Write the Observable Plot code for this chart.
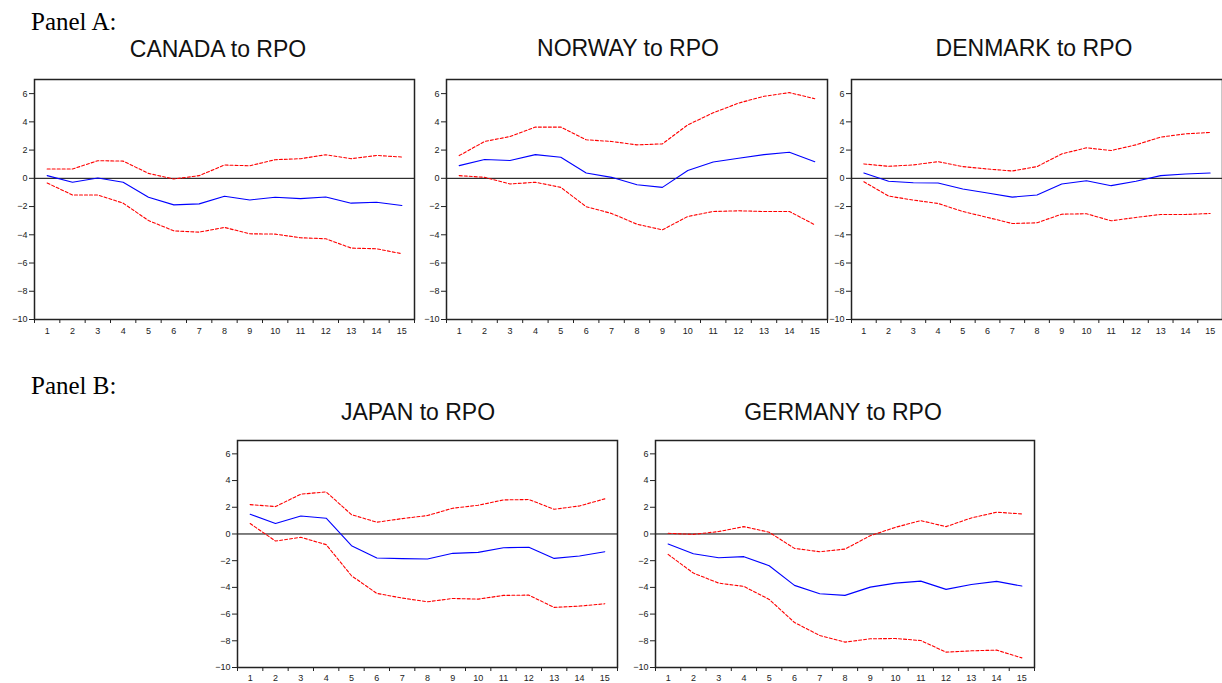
<!DOCTYPE html>
<html>
<head>
<meta charset="utf-8">
<script src="https://cdn.jsdelivr.net/npm/d3@7"></script>
<script src="https://cdn.jsdelivr.net/npm/@observablehq/plot@0.6"></script>
<style>
  html, body { margin: 0; padding: 0; background: #fff; overflow: hidden; }
  #root { position: relative; width: 1222px; height: 683px; overflow: hidden; background: #fff; }
  .panel-label { position: absolute; font-family: "Liberation Serif", "Times New Roman", serif; font-size: 25px; line-height: 25px; color: #000; white-space: nowrap; }
  .title { position: absolute; width: 320px; text-align: center; font-family: "Liberation Sans", Arial, sans-serif; font-size: 23px; line-height: 23px; color: #111; white-space: nowrap; }
  .chart { position: absolute; }
</style>
</head>
<body>
<div id="root"></div>
<script>
// ---- Data ----
const periods = [1, 2, 3, 4, 5, 6, 7, 8, 9, 10, 11, 12, 13, 14, 15];
const yTicks = [-10, -8, -6, -4, -2, 0, 2, 4, 6];

const panelLabels = ["Panel A:", "Panel B:"];
const titles = ["CANADA to RPO", "NORWAY to RPO", "DENMARK to RPO", "JAPAN to RPO", "GERMANY to RPO"];

const canadaResp  = [0.19, -0.28, 0.02, -0.28, -1.34, -1.88, -1.81, -1.27, -1.53, -1.34, -1.44, -1.32, -1.76, -1.69, -1.93];
const canadaUpper = [0.66, 0.66, 1.25, 1.22, 0.35, -0.05, 0.19, 0.94, 0.89, 1.32, 1.39, 1.67, 1.39, 1.62, 1.51];
const canadaLower = [-0.33, -1.18, -1.18, -1.76, -2.99, -3.72, -3.81, -3.48, -3.93, -3.95, -4.21, -4.28, -4.94, -4.99, -5.34];

const norwayResp  = [0.90, 1.33, 1.26, 1.68, 1.49, 0.38, 0.07, -0.45, -0.64, 0.55, 1.16, 1.42, 1.68, 1.85, 1.18];
const norwayUpper = [1.61, 2.61, 2.96, 3.63, 3.63, 2.73, 2.61, 2.37, 2.44, 3.79, 4.64, 5.33, 5.81, 6.07, 5.64];
const norwayLower = [0.19, 0.07, -0.40, -0.28, -0.64, -2.01, -2.49, -3.25, -3.65, -2.70, -2.35, -2.30, -2.35, -2.35, -3.29];

const denmarkResp  = [0.38, -0.21, -0.31, -0.33, -0.76, -1.04, -1.33, -1.18, -0.40, -0.17, -0.52, -0.21, 0.19, 0.31, 0.38];
const denmarkUpper = [1.02, 0.85, 0.95, 1.18, 0.83, 0.66, 0.52, 0.83, 1.73, 2.16, 1.97, 2.37, 2.92, 3.15, 3.25];
const denmarkLower = [-0.24, -1.26, -1.54, -1.78, -2.35, -2.77, -3.20, -3.15, -2.54, -2.51, -3.01, -2.77, -2.56, -2.56, -2.49];

const japanResp  = [1.48, 0.78, 1.35, 1.18, -0.88, -1.80, -1.85, -1.88, -1.45, -1.38, -1.03, -1.00, -1.83, -1.65, -1.33];
const japanUpper = [2.20, 2.05, 2.98, 3.15, 1.45, 0.88, 1.15, 1.38, 1.93, 2.15, 2.55, 2.58, 1.85, 2.10, 2.63];
const japanLower = [0.78, -0.53, -0.25, -0.80, -3.13, -4.45, -4.80, -5.08, -4.83, -4.88, -4.60, -4.58, -5.50, -5.40, -5.23];

const germanyResp  = [-0.75, -1.48, -1.78, -1.70, -2.38, -3.85, -4.48, -4.60, -3.98, -3.68, -3.53, -4.15, -3.78, -3.55, -3.90];
const germanyUpper = [0.05, -0.03, 0.18, 0.55, 0.13, -1.08, -1.33, -1.13, -0.13, 0.50, 1.00, 0.55, 1.20, 1.63, 1.50];
const germanyLower = [-1.53, -2.93, -3.68, -3.93, -4.90, -6.63, -7.60, -8.10, -7.85, -7.83, -7.98, -8.85, -8.75, -8.70, -9.28];

// ---- Layout ----
const root = document.getElementById("root");
const mL = 30, mR = 4, mT = 4, mB = 22;

const panels = [
  {title: titles[0], resp: canadaResp,  upper: canadaUpper,  lower: canadaLower,  fx: 34,  fy: 79,  fw: 380, fh: 240, tx: 218, tb: 57, pad: 8},
  {title: titles[1], resp: norwayResp,  upper: norwayUpper,  lower: norwayLower,  fx: 446, fy: 79,  fw: 381, fh: 240, tx: 628, tb: 56, pad: 8},
  {title: titles[2], resp: denmarkResp, upper: denmarkUpper, lower: denmarkLower, fx: 851, fy: 79,  fw: 371, fh: 240, tx: 1034, tb: 56, pad: 8},
  {title: titles[3], resp: japanResp,   upper: japanUpper,   lower: japanLower,   fx: 237, fy: 440, fw: 380, fh: 227, tx: 418, tb: 420, pad: 7},
  {title: titles[4], resp: germanyResp, upper: germanyUpper, lower: germanyLower, fx: 655, fy: 440, fw: 379, fh: 227, tx: 843, tb: 420, pad: 7}
];

function addLabel(text, left, baseline) {
  const d = document.createElement("div");
  d.className = "panel-label";
  d.textContent = text;
  d.style.left = left + "px";
  d.style.top = (baseline - 0.8375 * 25) + "px";
  root.appendChild(d);
}
addLabel(panelLabels[0], 31, 29.5);
addLabel(panelLabels[1], 31, 393.5);

const boundaries = periods.map(p => p - 0.5).concat([periods[periods.length - 1] + 0.5]);

for (const p of panels) {
  const t = document.createElement("div");
  t.className = "title";
  t.textContent = p.title;
  t.style.left = (p.tx - 160) + "px";
  t.style.top = (p.tb - 0.8465 * 23) + "px";
  root.appendChild(t);

  const resp = periods.map((x, i) => ({x, y: p.resp[i]}));
  const up = periods.map((x, i) => ({x, y: p.upper[i]}));
  const lo = periods.map((x, i) => ({x, y: p.lower[i]}));

  const chart = Plot.plot({
    width: p.fw + mL + mR,
    height: p.fh + mT + mB,
    marginLeft: mL, marginRight: mR, marginTop: mT, marginBottom: mB,
    style: {fontFamily: "'Liberation Sans', Arial, sans-serif", fontSize: "9px", color: "#222", background: "transparent", overflow: "visible"},
    x: {domain: [boundaries[0], boundaries[boundaries.length - 1]]},
    y: {domain: [-10, 7]},
    marks: [
      Plot.ruleY([0], {stroke: "#000", strokeWidth: 1}),
      Plot.line(up, {x: "x", y: "y", stroke: "#ff0000", strokeWidth: 1.1, strokeDasharray: "3,2"}),
      Plot.line(lo, {x: "x", y: "y", stroke: "#ff0000", strokeWidth: 1.1, strokeDasharray: "3,2"}),
      Plot.line(resp, {x: "x", y: "y", stroke: "#0000ff", strokeWidth: 1.1}),
      Plot.axisY({ticks: yTicks, tickSize: 5, tickPadding: 2, label: null, stroke: "#222"}),
      Plot.axisX({ticks: boundaries, tickSize: 4, tickFormat: () => "", label: null, stroke: "#222"}),
      Plot.axisX({ticks: periods, tickSize: 0, tickPadding: p.pad, tickFormat: d => String(d), label: null}),
      Plot.frame({stroke: "#222", strokeWidth: 1.5})
    ]
  });
  chart.classList.add("chart");
  chart.style.left = (p.fx - mL) + "px";
  chart.style.top = (p.fy - mT) + "px";
  chart.style.position = "absolute";
  root.appendChild(chart);
}
</script>
</body>
</html>
